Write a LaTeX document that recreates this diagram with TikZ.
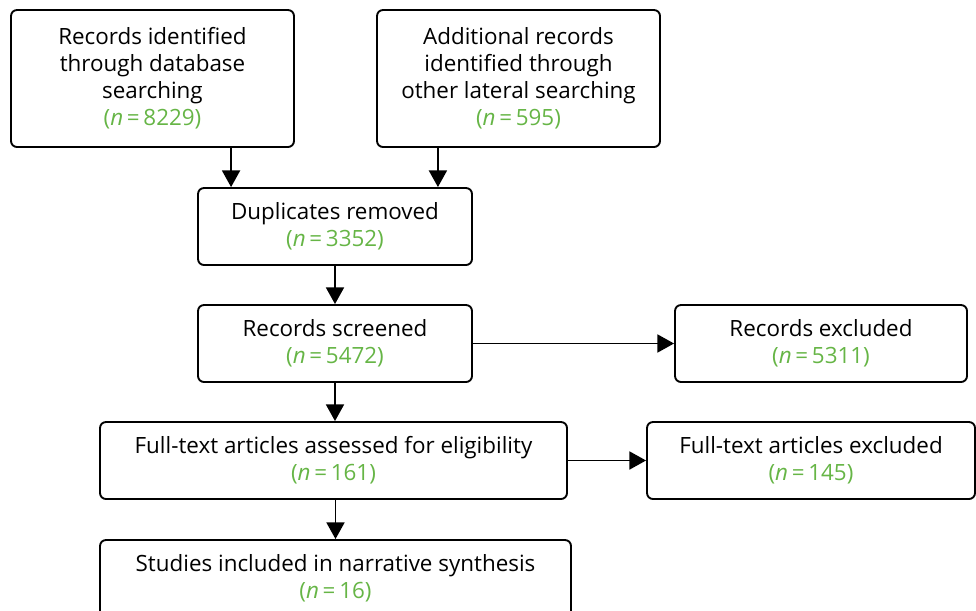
\documentclass[tikz,border=0pt]{standalone}
\usepackage{fontspec}
\setmainfont{Open Sans}
\usetikzlibrary{arrows.meta}

\definecolor{ngreen}{RGB}{102,181,70}
\newcommand{\nval}[1]{{\color{ngreen}(\textit{n}\,=\,#1)}}

\tikzset{
  prbox/.style={draw,line width=1.4pt,rounded corners=4.5pt,align=center,
    inner sep=0pt,font=\fontsize{16.8}{20.3}\selectfont},
  arr/.style={-{Triangle[length=12.5pt,width=13.5pt]},line width=1.4pt}
}

\begin{document}
\begin{tikzpicture}[x=0.75pt,y=-0.75pt]
\clip (0,0) rectangle (976,611);
% top row
\node[prbox,minimum width={283*0.75pt},minimum height={137*0.75pt}] (dbs) at (152.5,78.5)
  {Records identified\\through database\\searching\\\nval{8229}};
\node[prbox,minimum width={283*0.75pt},minimum height={137*0.75pt}] (oth) at (518.5,78.5)
  {Additional records\\identified through\\other lateral searching\\\nval{595}};
% main column
\node[prbox,minimum width={274*0.75pt},minimum height={77*0.75pt}] (dup) at (335,226.5)
  {Duplicates removed\\\nval{3352}};
\node[prbox,minimum width={274*0.75pt},minimum height={77*0.75pt}] (scr) at (335,343.5)
  {Records screened\\\nval{5472}};
\node[prbox,minimum width={467*0.75pt},minimum height={77*0.75pt}] (ftx) at (333.5,460.5)
  {Full-text articles assessed for eligibility\\\nval{161}};
\node[prbox,minimum width={471*0.75pt},minimum height={77*0.75pt}] (inc) at (335.5,578.5)
  {Studies included in narrative synthesis\\\nval{16}};
% exclusions
\node[prbox,minimum width={292*0.75pt},minimum height={77*0.75pt}] (rex) at (821,343.5)
  {Records excluded\\\nval{5311}};
\node[prbox,minimum width={328*0.75pt},minimum height={77*0.75pt}] (fex) at (811,460.5)
  {Full-text articles excluded\\\nval{145}};

\coordinate (dupL) at ([xshift={34*0.75pt}]dup.north west);
\coordinate (dupR) at ([xshift={-35*0.75pt}]dup.north east);
\draw[arr] (dbs.south -| dupL) -- (dupL);
\draw[arr] (oth.south -| dupR) -- (dupR);
\draw[arr] (dup) -- (scr);
\draw[arr] (scr) -- (rex);
\draw[arr] (ftx) -- (fex);
\draw[arr] (scr.south) -- (scr.south |- ftx.north);
\draw[arr] (ftx.south -| inc.north) -- (inc.north);
\end{tikzpicture}
\end{document}
